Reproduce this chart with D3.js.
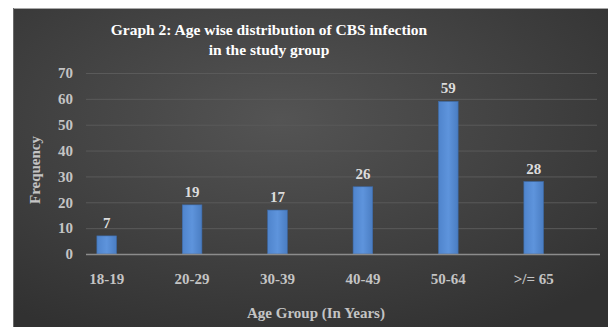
<!DOCTYPE html>
<html>
<head>
<meta charset="utf-8">
<script src="https://cdn.jsdelivr.net/npm/d3@7"></script>
<style>
  html, body { margin: 0; padding: 0; background: #fff; }
  svg { display: block; }
</style>
</head>
<body>
<div id="chart"></div>
<script>
// data
var ageGroups = ["18-19", "20-29", "30-39", "40-49", "50-64", ">/= 65"];
var frequency = [7, 19, 17, 26, 59, 28];
var yTicks = [0, 10, 20, 30, 40, 50, 60, 70];

var width = 608, height = 327;
var font = "'Liberation Serif', 'DejaVu Serif', serif";

var svg = d3.select("#chart")
    .append("svg")
    .attr("width", width)
    .attr("height", height)
    .attr("font-family", font);

var defs = svg.append("defs");
var bg = defs.append("radialGradient")
    .attr("id", "bg")
    .attr("cx", "45%").attr("cy", "35%").attr("r", "75%");
bg.append("stop").attr("offset", "0%").attr("stop-color", "#545454");
bg.append("stop").attr("offset", "100%").attr("stop-color", "#313131");

var barGrad = defs.append("linearGradient")
    .attr("id", "bar")
    .attr("x1", 0).attr("x2", 1).attr("y1", 0).attr("y2", 0);
barGrad.append("stop").attr("offset", "0%").attr("stop-color", "#4f84cc");
barGrad.append("stop").attr("offset", "50%").attr("stop-color", "#5e94dc");
barGrad.append("stop").attr("offset", "100%").attr("stop-color", "#4a7dc2");

// panel
svg.append("rect")
    .attr("x", 13).attr("y", 8)
    .attr("width", width - 13).attr("height", height - 8)
    .attr("fill", "url(#bg)");
svg.append("line")
    .attr("x1", 13).attr("x2", width).attr("y1", 8.5).attr("y2", 8.5)
    .attr("stroke", "#a8a8a8");
svg.append("line")
    .attr("x1", 13.5).attr("x2", 13.5).attr("y1", 8).attr("y2", height)
    .attr("stroke", "#6a6a6a");

// scales
var x = d3.scaleBand()
    .domain(ageGroups)
    .range([64, 576.4])
    .paddingInner(0.77)
    .paddingOuter(0.385);

var y = d3.scaleLinear()
    .domain([0, 70])
    .range([254, 73]);

// gridlines
svg.append("g")
    .selectAll("line")
    .data(yTicks.filter(d => d > 0))
    .enter()
    .append("line")
    .attr("x1", 86).attr("x2", 597)
    .attr("y1", d => y(d) + 0.5).attr("y2", d => y(d) + 0.5)
    .attr("stroke", "#5a5a5a")
    .attr("stroke-width", 1);

// y tick labels
svg.append("g")
    .selectAll("text")
    .data(yTicks)
    .enter()
    .append("text")
    .attr("x", 73)
    .attr("y", d => y(d))
    .attr("dy", "0.35em")
    .attr("text-anchor", "end")
    .attr("font-size", 15)
    .attr("font-weight", "bold")
    .attr("fill", "#c4c4c4")
    .text(d => d);

// bars
svg.append("g")
    .selectAll("rect")
    .data(frequency)
    .enter()
    .append("rect")
    .attr("x", (d, i) => x(ageGroups[i]))
    .attr("y", d => y(d))
    .attr("width", x.bandwidth())
    .attr("height", d => y(0) - y(d))
    .attr("fill", "url(#bar)")
    .attr("stroke", "#3d6aa8")
    .attr("stroke-width", 0.6);

// baseline
svg.append("line")
    .attr("x1", 86).attr("x2", 600)
    .attr("y1", y(0) + 0.5).attr("y2", y(0) + 0.5)
    .attr("stroke", "#8c8c8c")
    .attr("stroke-width", 1.5);

// value labels
svg.append("g")
    .selectAll("text")
    .data(frequency)
    .enter()
    .append("text")
    .attr("x", (d, i) => x(ageGroups[i]) + x.bandwidth() / 2)
    .attr("y", d => y(d) - 8)
    .attr("text-anchor", "middle")
    .attr("font-size", 15)
    .attr("font-weight", "bold")
    .attr("fill", "#dcdcdc")
    .text(d => d);

// x tick labels
svg.append("g")
    .selectAll("text")
    .data(ageGroups)
    .enter()
    .append("text")
    .attr("x", d => x(d) + x.bandwidth() / 2)
    .attr("y", 279)
    .attr("dy", "0.35em")
    .attr("text-anchor", "middle")
    .attr("font-size", 15)
    .attr("font-weight", "bold")
    .attr("fill", "#c4c4c4")
    .text(d => d);

// title
var title = svg.append("text")
    .attr("x", 269)
    .attr("text-anchor", "middle")
    .attr("font-size", 15.5)
    .attr("font-weight", "bold")
    .attr("fill", "#ffffff");
title.append("tspan").attr("x", 269).attr("y", 35).text("Graph 2: Age wise distribution of CBS infection");
title.append("tspan").attr("x", 269).attr("y", 55).text("in the study group");

// axis titles
svg.append("text")
    .attr("transform", "translate(35,170) rotate(-90)")
    .attr("dy", "0.35em")
    .attr("text-anchor", "middle")
    .attr("font-size", 15)
    .attr("font-weight", "bold")
    .attr("fill", "#c4c4c4")
    .text("Frequency");

svg.append("text")
    .attr("x", 316)
    .attr("y", 313)
    .attr("dy", "0.35em")
    .attr("text-anchor", "middle")
    .attr("font-size", 15)
    .attr("font-weight", "bold")
    .attr("fill", "#c4c4c4")
    .text("Age Group (In Years)");
</script>
</body>
</html>
